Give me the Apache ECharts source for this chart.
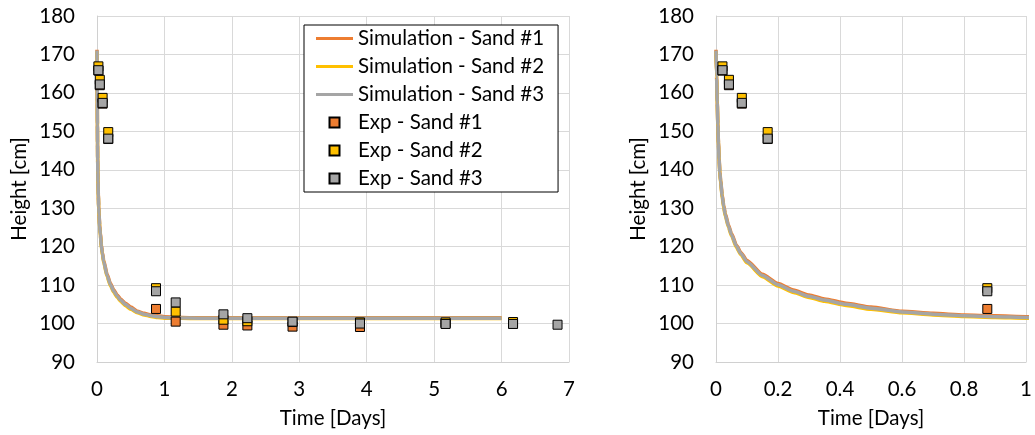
<!DOCTYPE html>
<html>
<head>
<meta charset="utf-8">
<script src="https://cdn.jsdelivr.net/npm/echarts@6/dist/echarts.min.js"></script>
<style>
html,body{margin:0;padding:0;background:#fff;}
#c{width:1035px;height:435px;}
</style>
</head>
<body>
<div id="c"></div>
<script>
// ---- data ----
const simTime  = [0,0.002,0.004,0.006,0.008,0.01,0.0125,0.015,0.02,0.025,0.03,0.04,0.05,0.066,0.08,0.1,0.15,0.2,0.25,0.3,0.35,0.42,0.5,0.6,0.7,0.8,0.9,1.0,1.25,1.5,2,3,4,5,6];
const simSand1 = [171.2,164.3,157.8,152.0,147.0,142.9,139.6,137.2,133.5,130.7,128.6,125.7,123.4,120.4,118.5,116.4,112.8,110.4,108.7,107.4,106.4,105.3,104.3,103.2,102.65,102.25,102.0,101.8,101.55,101.5,101.5,101.5,101.5,101.5,101.5];
const simSand2 = [170.8,163.7,157.2,151.4,146.4,142.3,139.0,136.6,132.9,130.1,128.0,125.1,122.8,119.8,117.9,115.8,112.2,109.8,108.1,106.8,105.8,104.7,103.7,102.8,102.25,101.85,101.6,101.4,101.35,101.3,101.3,101.3,101.3,101.3,101.3];
const simSand3 = [171,164.0,157.5,151.7,146.7,142.6,139.3,136.9,133.2,130.4,128.3,125.4,123.1,120.1,118.2,116.1,112.5,110.1,108.4,107.1,106.1,105.0,104.0,103.0,102.45,102.05,101.8,101.6,101.45,101.4,101.4,101.4,101.4,101.4,101.4];

const expTime  = [0.0208,0.0417,0.0833,0.1667,0.875,1.167,1.875,2.23,2.9,3.9,5.17,6.17,6.83];
const expSand1 = [165.8,162,157.2,148,103.8,100.5,99.7,99.5,99.2,99.1,100,100,null];
const expSand2 = [166.9,163.4,158.7,149.8,109.2,103.1,101,100.6,100.4,100.3,100.3,100.4,null];
const expSand3 = [165.9,162.2,157.4,148.1,108.4,105.5,102.4,101.4,100.5,100.0,99.9,99.9,99.7];

const names = ['Simulation - Sand #1','Simulation - Sand #2','Simulation - Sand #3','Exp - Sand #1','Exp - Sand #2','Exp - Sand #3'];
const colors = ['#ED7D31','#FFC000','#A5A5A5'];
const leftTicks = {min:0, max:7, interval:1};
const rightTicks = {min:0, max:1, interval:0.2};
const yTicks = {min:90, max:180, interval:10};

// ---- build ----
const FONT = 'Lato';
const AX_FS = 20.5;
function pairs(xs, ys){ const out=[]; xs.forEach((x,i)=>{ if(ys[i]!=null) out.push([x,ys[i]]); }); return out; }
const sims = [simSand1, simSand2, simSand3];
const exps = [expSand1, expSand2, expSand3];
const sq = 'path://M0 0H10V10H0Z';
const ln = 'path://M0 0H37V3H0Z';

const series = [];
[0,1].forEach(gi=>{
  sims.forEach((s,i)=>{
    series.push({name:names[i], type:'line', xAxisIndex:gi, yAxisIndex:gi, data:pairs(simTime,s),
      showSymbol:false, symbol:'none', smooth:0.2, smoothMonotone:'x',
      lineStyle:{color:colors[i], width:3.5}, itemStyle:{color:colors[i]}, z:2});
  });
});
[0,1].forEach(gi=>{
  exps.forEach((s,i)=>{
    series.push({name:names[3+i], type:'scatter', xAxisIndex:gi, yAxisIndex:gi, data:pairs(expTime,s),
      symbol:'rect', symbolSize:9, itemStyle:{color:colors[i], borderColor:'#000', borderWidth:1, opacity:1}, z:3});
  });
});

function yAxis(gi){
  return {type:'value', gridIndex:gi, min:yTicks.min, max:yTicks.max, interval:yTicks.interval,
    name:'Height [cm]', nameLocation:'middle', nameGap:67, nameRotate:90,
    nameTextStyle:{fontFamily:FONT, fontSize:AX_FS, color:'#000'},
    axisLine:{show:true, lineStyle:{color:'#D0D0D0', width:1}}, axisTick:{show:false},
    axisLabel:{fontFamily:FONT, fontSize:AX_FS, color:'#000', margin:22},
    splitLine:{show:true, lineStyle:{color:'#D9D9D9', width:1}}};
}
function xAxis(gi, t){
  return {type:'value', gridIndex:gi, min:t.min, max:t.max, interval:t.interval,
    name:'Time [Days]', nameLocation:'middle', nameGap:46,
    nameTextStyle:{fontFamily:FONT, fontSize:AX_FS, color:'#000'},
    axisLine:{show:true, onZero:false, lineStyle:{color:'#D0D0D0', width:1}}, axisTick:{show:false},
    axisLabel:{fontFamily:FONT, fontSize:AX_FS, color:'#000', margin:17},
    splitLine:{show:true, lineStyle:{color:'#D9D9D9', width:1}}};
}

const chart = echarts.init(document.getElementById('c'), null, {renderer:'canvas'});
chart.setOption({
  animation:false,
  backgroundColor:'#fff',
  grid:[
    {left:97, top:16, width:472, height:346},
    {left:716, top:16, width:313, height:346}
  ],
  xAxis:[xAxis(0,leftTicks), xAxis(1,rightTicks)],
  yAxis:[yAxis(0), yAxis(1)],
  legend:{
    orient:'vertical', left:304, top:25,
    backgroundColor:'#fff', borderColor:'#000', borderWidth:1,
    padding:[3,14,3,12],
    itemWidth:37, itemHeight:10, itemGap:7,
    textStyle:{fontFamily:FONT, fontSize:AX_FS, color:'#000'},
    data:[
      {name:names[0], icon:ln},{name:names[1], icon:ln},{name:names[2], icon:ln},
      {name:names[3], icon:sq},{name:names[4], icon:sq},{name:names[5], icon:sq}
    ]
  },
  series:series
});
</script>
</body>
</html>
